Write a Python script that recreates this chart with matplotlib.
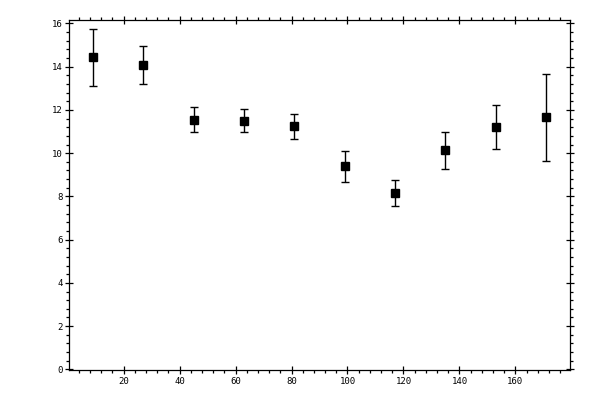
import numpy as np
import matplotlib.pyplot as plt
from matplotlib.ticker import MultipleLocator

angle = np.array([9, 27, 45, 63, 81, 99, 117, 135, 153, 171])
value = np.array([14.43, 14.06, 11.55, 11.50, 11.25, 9.39, 8.14, 10.13, 11.23, 11.66])
err = np.array([1.33, 0.88, 0.58, 0.53, 0.58, 0.70, 0.60, 0.84, 1.02, 2.02])

fig = plt.figure(figsize=(6, 4), dpi=100)
ax = fig.add_axes([0.115, 0.075, 0.835, 0.876])

ax.errorbar(angle, value, yerr=err, fmt='s', color='black', ms=5.2,
            elinewidth=1, capsize=3, capthick=1)

ax.set_xlim(0.5, 179.5)
ax.set_ylim(-0.03, 16.18)
ax.xaxis.set_major_locator(MultipleLocator(20))
ax.xaxis.set_minor_locator(MultipleLocator(4))
ax.yaxis.set_major_locator(MultipleLocator(2))
ax.yaxis.set_minor_locator(MultipleLocator(0.4))

ax.tick_params(which='major', direction='inout', length=5.5, width=0.9,
               top=True, right=True, labelsize=6.5, pad=2)
ax.tick_params(which='minor', direction='out', length=2.3, width=0.9,
               top=True, right=True)
for lab in ax.get_xticklabels() + ax.get_yticklabels():
    lab.set_family('DejaVu Sans Mono')
for s in ax.spines.values():
    s.set_linewidth(0.9)

fig.savefig('out.png', dpi=100)
